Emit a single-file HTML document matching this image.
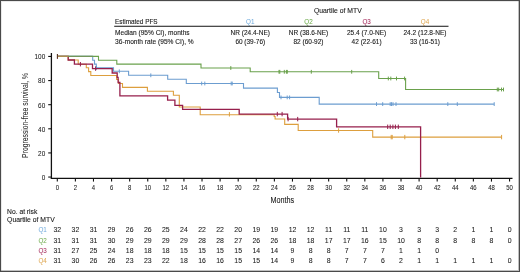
<!DOCTYPE html>
<html><head><meta charset="utf-8"><style>
html,body{margin:0;padding:0;background:#fff;}
body{width:520px;height:272px;overflow:hidden;position:relative;}
.frame{position:absolute;left:0;top:0;width:518px;height:270px;border:1px solid #4a4a4a;box-shadow:inset -1px -1px 0 rgba(74,74,74,0.35), inset 1px 1px 0 rgba(74,74,74,0.12);}
svg{position:absolute;left:0;top:0;will-change:transform;}
svg{font-family:"Liberation Sans",sans-serif;}
</style></head><body>
<svg width="520" height="272" viewBox="0 0 520 272">
<text x="337.8" y="12.6" font-size="6.6" fill="#1a1a1a" stroke="#1a1a1a" stroke-width="0.1" text-anchor="middle" textLength="47.8" lengthAdjust="spacingAndGlyphs">Quartile of MTV</text>
<text x="115.0" y="23.5" font-size="6.3" fill="#1a1a1a" stroke="#1a1a1a" stroke-width="0.1" textLength="42.6" lengthAdjust="spacingAndGlyphs">Estimated PFS</text>
<text x="250.3" y="23.5" font-size="7.0" fill="#74acdc" stroke="#74acdc" stroke-width="0.05" text-anchor="middle" textLength="8.4" lengthAdjust="spacingAndGlyphs">Q1</text>
<text x="308.5" y="23.5" font-size="7.0" fill="#6fab4e" stroke="#6fab4e" stroke-width="0.05" text-anchor="middle" textLength="8.4" lengthAdjust="spacingAndGlyphs">Q2</text>
<text x="366.6" y="23.5" font-size="7.0" fill="#a52a5a" stroke="#a52a5a" stroke-width="0.05" text-anchor="middle" textLength="8.4" lengthAdjust="spacingAndGlyphs">Q3</text>
<text x="425.0" y="23.5" font-size="7.0" fill="#dea855" stroke="#dea855" stroke-width="0.05" text-anchor="middle" textLength="8.4" lengthAdjust="spacingAndGlyphs">Q4</text>
<rect x="114.2" y="25.75" width="334.3" height="1.05" fill="#1e1e1e"/>
<text x="115.1" y="34.7" font-size="6.3" fill="#1a1a1a" stroke="#1a1a1a" stroke-width="0.1" textLength="74.5" lengthAdjust="spacingAndGlyphs">Median (95% CI), months</text>
<text x="115.1" y="43.6" font-size="6.3" fill="#1a1a1a" stroke="#1a1a1a" stroke-width="0.1" textLength="78.6" lengthAdjust="spacingAndGlyphs">36-month rate (95% CI), %</text>
<text x="250.3" y="34.7" font-size="6.3" fill="#1a1a1a" stroke="#1a1a1a" stroke-width="0.1" text-anchor="middle" textLength="39.4" lengthAdjust="spacingAndGlyphs">NR (24.4-NE)</text>
<text x="250.3" y="43.6" font-size="6.3" fill="#1a1a1a" stroke="#1a1a1a" stroke-width="0.1" text-anchor="middle" textLength="29.8" lengthAdjust="spacingAndGlyphs">60 (39-76)</text>
<text x="308.5" y="34.7" font-size="6.3" fill="#1a1a1a" stroke="#1a1a1a" stroke-width="0.1" text-anchor="middle" textLength="39.4" lengthAdjust="spacingAndGlyphs">NR (38.6-NE)</text>
<text x="308.5" y="43.6" font-size="6.3" fill="#1a1a1a" stroke="#1a1a1a" stroke-width="0.1" text-anchor="middle" textLength="30.0" lengthAdjust="spacingAndGlyphs">82 (60-92)</text>
<text x="366.6" y="34.7" font-size="6.3" fill="#1a1a1a" stroke="#1a1a1a" stroke-width="0.1" text-anchor="middle" textLength="39.3" lengthAdjust="spacingAndGlyphs">25.4 (7.0-NE)</text>
<text x="366.6" y="43.6" font-size="6.3" fill="#1a1a1a" stroke="#1a1a1a" stroke-width="0.1" text-anchor="middle" textLength="30.0" lengthAdjust="spacingAndGlyphs">42 (22-61)</text>
<text x="425.0" y="34.7" font-size="6.3" fill="#1a1a1a" stroke="#1a1a1a" stroke-width="0.1" text-anchor="middle" textLength="43.1" lengthAdjust="spacingAndGlyphs">24.2 (12.8-NE)</text>
<text x="425.0" y="43.6" font-size="6.3" fill="#1a1a1a" stroke="#1a1a1a" stroke-width="0.1" text-anchor="middle" textLength="30.0" lengthAdjust="spacingAndGlyphs">33 (16-51)</text>
<line x1="51.4" y1="53" x2="51.4" y2="178.8" stroke="#111" stroke-width="1.3"/>
<line x1="50.8" y1="178.45" x2="512.5" y2="178.45" stroke="#111" stroke-width="1.2"/>
<line x1="48.2" y1="177.05" x2="51.4" y2="177.05" stroke="#111" stroke-width="1.1"/>
<text x="45.2" y="179.9" font-size="8.1" fill="#1a1a1a" stroke="#1a1a1a" stroke-width="0.07" text-anchor="end" textLength="3.55" lengthAdjust="spacingAndGlyphs">0</text>
<line x1="48.2" y1="152.93" x2="51.4" y2="152.93" stroke="#111" stroke-width="1.1"/>
<text x="45.2" y="155.78" font-size="8.1" fill="#1a1a1a" stroke="#1a1a1a" stroke-width="0.07" text-anchor="end" textLength="7.1" lengthAdjust="spacingAndGlyphs">20</text>
<line x1="48.2" y1="128.81" x2="51.4" y2="128.81" stroke="#111" stroke-width="1.1"/>
<text x="45.2" y="131.66" font-size="8.1" fill="#1a1a1a" stroke="#1a1a1a" stroke-width="0.07" text-anchor="end" textLength="7.1" lengthAdjust="spacingAndGlyphs">40</text>
<line x1="48.2" y1="104.69" x2="51.4" y2="104.69" stroke="#111" stroke-width="1.1"/>
<text x="45.2" y="107.54" font-size="8.1" fill="#1a1a1a" stroke="#1a1a1a" stroke-width="0.07" text-anchor="end" textLength="7.1" lengthAdjust="spacingAndGlyphs">60</text>
<line x1="48.2" y1="80.57" x2="51.4" y2="80.57" stroke="#111" stroke-width="1.1"/>
<text x="45.2" y="83.42000000000002" font-size="8.1" fill="#1a1a1a" stroke="#1a1a1a" stroke-width="0.07" text-anchor="end" textLength="7.1" lengthAdjust="spacingAndGlyphs">80</text>
<line x1="48.2" y1="56.45" x2="51.4" y2="56.45" stroke="#111" stroke-width="1.1"/>
<text x="45.2" y="59.30000000000002" font-size="8.1" fill="#1a1a1a" stroke="#1a1a1a" stroke-width="0.07" text-anchor="end" textLength="10.649999999999999" lengthAdjust="spacingAndGlyphs">100</text>
<line x1="57.30" y1="178.2" x2="57.30" y2="181.6" stroke="#111" stroke-width="1.1"/>
<text x="57.30" y="190.4" font-size="7.6" fill="#1a1a1a" stroke="#1a1a1a" stroke-width="0.07" text-anchor="middle" textLength="3.3" lengthAdjust="spacingAndGlyphs">0</text>
<line x1="75.39" y1="178.2" x2="75.39" y2="181.6" stroke="#111" stroke-width="1.1"/>
<text x="75.39" y="190.4" font-size="7.6" fill="#1a1a1a" stroke="#1a1a1a" stroke-width="0.07" text-anchor="middle" textLength="3.3" lengthAdjust="spacingAndGlyphs">2</text>
<line x1="93.48" y1="178.2" x2="93.48" y2="181.6" stroke="#111" stroke-width="1.1"/>
<text x="93.48" y="190.4" font-size="7.6" fill="#1a1a1a" stroke="#1a1a1a" stroke-width="0.07" text-anchor="middle" textLength="3.3" lengthAdjust="spacingAndGlyphs">4</text>
<line x1="111.57" y1="178.2" x2="111.57" y2="181.6" stroke="#111" stroke-width="1.1"/>
<text x="111.57" y="190.4" font-size="7.6" fill="#1a1a1a" stroke="#1a1a1a" stroke-width="0.07" text-anchor="middle" textLength="3.3" lengthAdjust="spacingAndGlyphs">6</text>
<line x1="129.66" y1="178.2" x2="129.66" y2="181.6" stroke="#111" stroke-width="1.1"/>
<text x="129.66" y="190.4" font-size="7.6" fill="#1a1a1a" stroke="#1a1a1a" stroke-width="0.07" text-anchor="middle" textLength="3.3" lengthAdjust="spacingAndGlyphs">8</text>
<line x1="147.75" y1="178.2" x2="147.75" y2="181.6" stroke="#111" stroke-width="1.1"/>
<text x="147.75" y="190.4" font-size="7.6" fill="#1a1a1a" stroke="#1a1a1a" stroke-width="0.07" text-anchor="middle" textLength="6.6" lengthAdjust="spacingAndGlyphs">10</text>
<line x1="165.84" y1="178.2" x2="165.84" y2="181.6" stroke="#111" stroke-width="1.1"/>
<text x="165.84" y="190.4" font-size="7.6" fill="#1a1a1a" stroke="#1a1a1a" stroke-width="0.07" text-anchor="middle" textLength="6.6" lengthAdjust="spacingAndGlyphs">12</text>
<line x1="183.93" y1="178.2" x2="183.93" y2="181.6" stroke="#111" stroke-width="1.1"/>
<text x="183.93" y="190.4" font-size="7.6" fill="#1a1a1a" stroke="#1a1a1a" stroke-width="0.07" text-anchor="middle" textLength="6.6" lengthAdjust="spacingAndGlyphs">14</text>
<line x1="202.02" y1="178.2" x2="202.02" y2="181.6" stroke="#111" stroke-width="1.1"/>
<text x="202.02" y="190.4" font-size="7.6" fill="#1a1a1a" stroke="#1a1a1a" stroke-width="0.07" text-anchor="middle" textLength="6.6" lengthAdjust="spacingAndGlyphs">16</text>
<line x1="220.11" y1="178.2" x2="220.11" y2="181.6" stroke="#111" stroke-width="1.1"/>
<text x="220.11" y="190.4" font-size="7.6" fill="#1a1a1a" stroke="#1a1a1a" stroke-width="0.07" text-anchor="middle" textLength="6.6" lengthAdjust="spacingAndGlyphs">18</text>
<line x1="238.20" y1="178.2" x2="238.20" y2="181.6" stroke="#111" stroke-width="1.1"/>
<text x="238.20" y="190.4" font-size="7.6" fill="#1a1a1a" stroke="#1a1a1a" stroke-width="0.07" text-anchor="middle" textLength="6.6" lengthAdjust="spacingAndGlyphs">20</text>
<line x1="256.29" y1="178.2" x2="256.29" y2="181.6" stroke="#111" stroke-width="1.1"/>
<text x="256.29" y="190.4" font-size="7.6" fill="#1a1a1a" stroke="#1a1a1a" stroke-width="0.07" text-anchor="middle" textLength="6.6" lengthAdjust="spacingAndGlyphs">22</text>
<line x1="274.38" y1="178.2" x2="274.38" y2="181.6" stroke="#111" stroke-width="1.1"/>
<text x="274.38" y="190.4" font-size="7.6" fill="#1a1a1a" stroke="#1a1a1a" stroke-width="0.07" text-anchor="middle" textLength="6.6" lengthAdjust="spacingAndGlyphs">24</text>
<line x1="292.47" y1="178.2" x2="292.47" y2="181.6" stroke="#111" stroke-width="1.1"/>
<text x="292.47" y="190.4" font-size="7.6" fill="#1a1a1a" stroke="#1a1a1a" stroke-width="0.07" text-anchor="middle" textLength="6.6" lengthAdjust="spacingAndGlyphs">26</text>
<line x1="310.56" y1="178.2" x2="310.56" y2="181.6" stroke="#111" stroke-width="1.1"/>
<text x="310.56" y="190.4" font-size="7.6" fill="#1a1a1a" stroke="#1a1a1a" stroke-width="0.07" text-anchor="middle" textLength="6.6" lengthAdjust="spacingAndGlyphs">28</text>
<line x1="328.65" y1="178.2" x2="328.65" y2="181.6" stroke="#111" stroke-width="1.1"/>
<text x="328.65" y="190.4" font-size="7.6" fill="#1a1a1a" stroke="#1a1a1a" stroke-width="0.07" text-anchor="middle" textLength="6.6" lengthAdjust="spacingAndGlyphs">30</text>
<line x1="346.74" y1="178.2" x2="346.74" y2="181.6" stroke="#111" stroke-width="1.1"/>
<text x="346.74" y="190.4" font-size="7.6" fill="#1a1a1a" stroke="#1a1a1a" stroke-width="0.07" text-anchor="middle" textLength="6.6" lengthAdjust="spacingAndGlyphs">32</text>
<line x1="364.83" y1="178.2" x2="364.83" y2="181.6" stroke="#111" stroke-width="1.1"/>
<text x="364.83" y="190.4" font-size="7.6" fill="#1a1a1a" stroke="#1a1a1a" stroke-width="0.07" text-anchor="middle" textLength="6.6" lengthAdjust="spacingAndGlyphs">34</text>
<line x1="382.92" y1="178.2" x2="382.92" y2="181.6" stroke="#111" stroke-width="1.1"/>
<text x="382.92" y="190.4" font-size="7.6" fill="#1a1a1a" stroke="#1a1a1a" stroke-width="0.07" text-anchor="middle" textLength="6.6" lengthAdjust="spacingAndGlyphs">36</text>
<line x1="401.01" y1="178.2" x2="401.01" y2="181.6" stroke="#111" stroke-width="1.1"/>
<text x="401.01" y="190.4" font-size="7.6" fill="#1a1a1a" stroke="#1a1a1a" stroke-width="0.07" text-anchor="middle" textLength="6.6" lengthAdjust="spacingAndGlyphs">38</text>
<line x1="419.10" y1="178.2" x2="419.10" y2="181.6" stroke="#111" stroke-width="1.1"/>
<text x="419.10" y="190.4" font-size="7.6" fill="#1a1a1a" stroke="#1a1a1a" stroke-width="0.07" text-anchor="middle" textLength="6.6" lengthAdjust="spacingAndGlyphs">40</text>
<line x1="437.19" y1="178.2" x2="437.19" y2="181.6" stroke="#111" stroke-width="1.1"/>
<text x="437.19" y="190.4" font-size="7.6" fill="#1a1a1a" stroke="#1a1a1a" stroke-width="0.07" text-anchor="middle" textLength="6.6" lengthAdjust="spacingAndGlyphs">42</text>
<line x1="455.28" y1="178.2" x2="455.28" y2="181.6" stroke="#111" stroke-width="1.1"/>
<text x="455.28" y="190.4" font-size="7.6" fill="#1a1a1a" stroke="#1a1a1a" stroke-width="0.07" text-anchor="middle" textLength="6.6" lengthAdjust="spacingAndGlyphs">44</text>
<line x1="473.37" y1="178.2" x2="473.37" y2="181.6" stroke="#111" stroke-width="1.1"/>
<text x="473.37" y="190.4" font-size="7.6" fill="#1a1a1a" stroke="#1a1a1a" stroke-width="0.07" text-anchor="middle" textLength="6.6" lengthAdjust="spacingAndGlyphs">46</text>
<line x1="491.46" y1="178.2" x2="491.46" y2="181.6" stroke="#111" stroke-width="1.1"/>
<text x="491.46" y="190.4" font-size="7.6" fill="#1a1a1a" stroke="#1a1a1a" stroke-width="0.07" text-anchor="middle" textLength="6.6" lengthAdjust="spacingAndGlyphs">48</text>
<line x1="509.55" y1="178.2" x2="509.55" y2="181.6" stroke="#111" stroke-width="1.1"/>
<text x="509.55" y="190.4" font-size="7.6" fill="#1a1a1a" stroke="#1a1a1a" stroke-width="0.07" text-anchor="middle" textLength="6.6" lengthAdjust="spacingAndGlyphs">50</text>
<text x="282.3" y="202.8" font-size="9.4" fill="#1a1a1a" stroke="#1a1a1a" stroke-width="0.1" text-anchor="middle" textLength="23.7" lengthAdjust="spacingAndGlyphs">Months</text>
<text transform="translate(27.9,115.4) rotate(-90)" x="0" y="0" font-size="8.3" stroke="#2a2a2a" stroke-width="0.05" fill="#2a2a2a" text-anchor="middle" textLength="85" lengthAdjust="spacingAndGlyphs">Progression-free survival, %</text>
<path d="M57.3,56.4 H92.7 V60.3 H94.5 V64.1 H96.3 V67.9 H113.5 V71.3 H128.6 V75.3 H167.7 V79.3 H186.3 V83.5 H243.5 V88.1 H277.4 V92.5 H279.5 V97.4 H319.2 V104.1 H494.2" fill="none" stroke="#6c9dd0" stroke-width="1.1" stroke-linejoin="miter"/>
<line x1="96.5" y1="66.00" x2="96.5" y2="69.80" stroke="#6c9dd0" stroke-width="1.0"/>
<line x1="119.3" y1="69.40" x2="119.3" y2="73.20" stroke="#6c9dd0" stroke-width="1.0"/>
<line x1="150.8" y1="73.40" x2="150.8" y2="77.20" stroke="#6c9dd0" stroke-width="1.0"/>
<line x1="201.7" y1="81.60" x2="201.7" y2="85.40" stroke="#6c9dd0" stroke-width="1.0"/>
<line x1="204.8" y1="81.60" x2="204.8" y2="85.40" stroke="#6c9dd0" stroke-width="1.0"/>
<line x1="231.2" y1="81.60" x2="231.2" y2="85.40" stroke="#6c9dd0" stroke-width="1.0"/>
<line x1="232.2" y1="81.60" x2="232.2" y2="85.40" stroke="#6c9dd0" stroke-width="1.0"/>
<line x1="281" y1="95.50" x2="281" y2="99.30" stroke="#6c9dd0" stroke-width="1.0"/>
<line x1="287.2" y1="95.50" x2="287.2" y2="99.30" stroke="#6c9dd0" stroke-width="1.0"/>
<line x1="289.6" y1="95.50" x2="289.6" y2="99.30" stroke="#6c9dd0" stroke-width="1.0"/>
<line x1="376.5" y1="102.20" x2="376.5" y2="106.00" stroke="#6c9dd0" stroke-width="1.0"/>
<line x1="382.7" y1="102.20" x2="382.7" y2="106.00" stroke="#6c9dd0" stroke-width="1.0"/>
<line x1="390.2" y1="102.20" x2="390.2" y2="106.00" stroke="#6c9dd0" stroke-width="1.0"/>
<line x1="391.5" y1="102.20" x2="391.5" y2="106.00" stroke="#6c9dd0" stroke-width="1.0"/>
<line x1="393" y1="102.20" x2="393" y2="106.00" stroke="#6c9dd0" stroke-width="1.0"/>
<line x1="396" y1="102.20" x2="396" y2="106.00" stroke="#6c9dd0" stroke-width="1.0"/>
<line x1="447.8" y1="102.20" x2="447.8" y2="106.00" stroke="#6c9dd0" stroke-width="1.0"/>
<line x1="457.3" y1="102.20" x2="457.3" y2="106.00" stroke="#6c9dd0" stroke-width="1.0"/>
<line x1="494.2" y1="102.20" x2="494.2" y2="106.00" stroke="#6c9dd0" stroke-width="1.0"/>
<path d="M57.3,56.4 H68.2 V60.0 H78.2 V64.2 H86.3 V67.8 H88.6 V71.6 H90.8 V75.5 H116.6 V79.5 H118.5 V83.5 H122.5 V87.4 H147.4 V91.3 H173.4 V95.2 H179.3 V107 H200.2 V114.7 H274.2 V116.5 H275.1 V119 H284.7 V124.4 H298.2 V130.5 H372.7 V137.1 H501.6" fill="none" stroke="#dd9f3e" stroke-width="1.1" stroke-linejoin="miter"/>
<line x1="229.4" y1="112.10" x2="229.4" y2="116.50" stroke="#dd9f3e" stroke-width="1.0"/>
<line x1="338.6" y1="128.30" x2="338.6" y2="132.70" stroke="#dd9f3e" stroke-width="1.0"/>
<line x1="391.2" y1="134.90" x2="391.2" y2="139.30" stroke="#dd9f3e" stroke-width="1.0"/>
<line x1="392.2" y1="134.90" x2="392.2" y2="139.30" stroke="#dd9f3e" stroke-width="1.0"/>
<line x1="404.8" y1="134.90" x2="404.8" y2="139.30" stroke="#dd9f3e" stroke-width="1.0"/>
<line x1="501.6" y1="134.90" x2="501.6" y2="139.30" stroke="#dd9f3e" stroke-width="1.0"/>
<path d="M57.3,56.4 H68.2 V60.0 H74.4 V64.2 H92.5 V68.6 H112.2 V73 H117.2 V77.3 H118.1 V82.5 H119.9 V95.9 H167.6 V100.2 H174.9 V105.3 H182.6 V109.3 H239.2 V114.1 H287.6 V119.1 H336.6 V126.8 H420.6 V177.6" fill="none" stroke="#961f4c" stroke-width="1.3" stroke-linejoin="miter"/>
<line x1="57.5" y1="54.20" x2="57.5" y2="58.60" stroke="#961f4c" stroke-width="1.0"/>
<line x1="80.4" y1="62.00" x2="80.4" y2="66.40" stroke="#961f4c" stroke-width="1.0"/>
<line x1="95.6" y1="66.40" x2="95.6" y2="70.80" stroke="#961f4c" stroke-width="1.0"/>
<line x1="277.3" y1="111.90" x2="277.3" y2="116.30" stroke="#961f4c" stroke-width="1.0"/>
<line x1="282.1" y1="111.90" x2="282.1" y2="116.30" stroke="#961f4c" stroke-width="1.0"/>
<line x1="288.1" y1="116.90" x2="288.1" y2="121.30" stroke="#961f4c" stroke-width="1.0"/>
<line x1="297.7" y1="116.90" x2="297.7" y2="121.30" stroke="#961f4c" stroke-width="1.0"/>
<line x1="387.7" y1="124.60" x2="387.7" y2="129.00" stroke="#961f4c" stroke-width="1.0"/>
<line x1="390.2" y1="124.60" x2="390.2" y2="129.00" stroke="#961f4c" stroke-width="1.0"/>
<line x1="392.9" y1="124.60" x2="392.9" y2="129.00" stroke="#961f4c" stroke-width="1.0"/>
<line x1="395.4" y1="124.60" x2="395.4" y2="129.00" stroke="#961f4c" stroke-width="1.0"/>
<line x1="398.3" y1="124.60" x2="398.3" y2="129.00" stroke="#961f4c" stroke-width="1.0"/>
<path d="M57.3,56.4 H98.5 V60.2 H116.8 V64.1 H201 V68.0 H250.2 V71.8 H378.7 V78.5 H405.6 V89.5 H503.5" fill="none" stroke="#6aa14c" stroke-width="1.1" stroke-linejoin="miter"/>
<line x1="230.8" y1="66.10" x2="230.8" y2="69.90" stroke="#6aa14c" stroke-width="1.0"/>
<line x1="279.0" y1="69.90" x2="279.0" y2="73.70" stroke="#6aa14c" stroke-width="1.0"/>
<line x1="279.8" y1="69.90" x2="279.8" y2="73.70" stroke="#6aa14c" stroke-width="1.0"/>
<line x1="284.3" y1="69.90" x2="284.3" y2="73.70" stroke="#6aa14c" stroke-width="1.0"/>
<line x1="286.4" y1="69.90" x2="286.4" y2="73.70" stroke="#6aa14c" stroke-width="1.0"/>
<line x1="287.3" y1="69.90" x2="287.3" y2="73.70" stroke="#6aa14c" stroke-width="1.0"/>
<line x1="311.3" y1="69.90" x2="311.3" y2="73.70" stroke="#6aa14c" stroke-width="1.0"/>
<line x1="351.7" y1="69.90" x2="351.7" y2="73.70" stroke="#6aa14c" stroke-width="1.0"/>
<line x1="388.3" y1="76.60" x2="388.3" y2="80.40" stroke="#6aa14c" stroke-width="1.0"/>
<line x1="390.8" y1="76.60" x2="390.8" y2="80.40" stroke="#6aa14c" stroke-width="1.0"/>
<line x1="396.5" y1="76.60" x2="396.5" y2="80.40" stroke="#6aa14c" stroke-width="1.0"/>
<line x1="404.6" y1="76.60" x2="404.6" y2="80.40" stroke="#6aa14c" stroke-width="1.0"/>
<line x1="497.3" y1="87.60" x2="497.3" y2="91.40" stroke="#6aa14c" stroke-width="1.0"/>
<line x1="498.7" y1="87.60" x2="498.7" y2="91.40" stroke="#6aa14c" stroke-width="1.0"/>
<line x1="501.5" y1="87.60" x2="501.5" y2="91.40" stroke="#6aa14c" stroke-width="1.0"/>
<line x1="503.5" y1="87.60" x2="503.5" y2="91.40" stroke="#6aa14c" stroke-width="1.0"/>
<line x1="57.3" y1="56.4" x2="68.2" y2="56.4" stroke="#b08d50" stroke-width="1.1"/>
<line x1="68.2" y1="56.4" x2="92.7" y2="56.4" stroke="#74955a" stroke-width="1.1"/>
<line x1="57.4" y1="54.0" x2="57.4" y2="58.8" stroke="#5a3a2a" stroke-width="1.1"/>
<text x="7.1" y="214.0" font-size="6.3" fill="#1a1a1a" stroke="#1a1a1a" stroke-width="0.1" textLength="30.2" lengthAdjust="spacingAndGlyphs">No. at risk</text>
<text x="7.1" y="221.7" font-size="6.3" fill="#1a1a1a" stroke="#1a1a1a" stroke-width="0.1" textLength="47.6" lengthAdjust="spacingAndGlyphs">Quartile of MTV</text>
<text x="46.8" y="232.4" font-size="6.9" fill="#74acdc" stroke="#74acdc" stroke-width="0.03" text-anchor="end" textLength="8.4" lengthAdjust="spacingAndGlyphs">Q1</text>
<text x="57.30" y="232.4" font-size="6.9" fill="#1a1a1a" stroke="#1a1a1a" stroke-width="0.06" text-anchor="middle">32</text>
<text x="75.39" y="232.4" font-size="6.9" fill="#1a1a1a" stroke="#1a1a1a" stroke-width="0.06" text-anchor="middle">32</text>
<text x="93.48" y="232.4" font-size="6.9" fill="#1a1a1a" stroke="#1a1a1a" stroke-width="0.06" text-anchor="middle">31</text>
<text x="111.57" y="232.4" font-size="6.9" fill="#1a1a1a" stroke="#1a1a1a" stroke-width="0.06" text-anchor="middle">29</text>
<text x="129.66" y="232.4" font-size="6.9" fill="#1a1a1a" stroke="#1a1a1a" stroke-width="0.06" text-anchor="middle">26</text>
<text x="147.75" y="232.4" font-size="6.9" fill="#1a1a1a" stroke="#1a1a1a" stroke-width="0.06" text-anchor="middle">26</text>
<text x="165.84" y="232.4" font-size="6.9" fill="#1a1a1a" stroke="#1a1a1a" stroke-width="0.06" text-anchor="middle">25</text>
<text x="183.93" y="232.4" font-size="6.9" fill="#1a1a1a" stroke="#1a1a1a" stroke-width="0.06" text-anchor="middle">24</text>
<text x="202.02" y="232.4" font-size="6.9" fill="#1a1a1a" stroke="#1a1a1a" stroke-width="0.06" text-anchor="middle">22</text>
<text x="220.11" y="232.4" font-size="6.9" fill="#1a1a1a" stroke="#1a1a1a" stroke-width="0.06" text-anchor="middle">22</text>
<text x="238.20" y="232.4" font-size="6.9" fill="#1a1a1a" stroke="#1a1a1a" stroke-width="0.06" text-anchor="middle">20</text>
<text x="256.29" y="232.4" font-size="6.9" fill="#1a1a1a" stroke="#1a1a1a" stroke-width="0.06" text-anchor="middle">19</text>
<text x="274.38" y="232.4" font-size="6.9" fill="#1a1a1a" stroke="#1a1a1a" stroke-width="0.06" text-anchor="middle">19</text>
<text x="292.47" y="232.4" font-size="6.9" fill="#1a1a1a" stroke="#1a1a1a" stroke-width="0.06" text-anchor="middle">12</text>
<text x="310.56" y="232.4" font-size="6.9" fill="#1a1a1a" stroke="#1a1a1a" stroke-width="0.06" text-anchor="middle">12</text>
<text x="328.65" y="232.4" font-size="6.9" fill="#1a1a1a" stroke="#1a1a1a" stroke-width="0.06" text-anchor="middle">11</text>
<text x="346.74" y="232.4" font-size="6.9" fill="#1a1a1a" stroke="#1a1a1a" stroke-width="0.06" text-anchor="middle">11</text>
<text x="364.83" y="232.4" font-size="6.9" fill="#1a1a1a" stroke="#1a1a1a" stroke-width="0.06" text-anchor="middle">11</text>
<text x="382.92" y="232.4" font-size="6.9" fill="#1a1a1a" stroke="#1a1a1a" stroke-width="0.06" text-anchor="middle">10</text>
<text x="401.01" y="232.4" font-size="6.9" fill="#1a1a1a" stroke="#1a1a1a" stroke-width="0.06" text-anchor="middle">3</text>
<text x="419.10" y="232.4" font-size="6.9" fill="#1a1a1a" stroke="#1a1a1a" stroke-width="0.06" text-anchor="middle">3</text>
<text x="437.19" y="232.4" font-size="6.9" fill="#1a1a1a" stroke="#1a1a1a" stroke-width="0.06" text-anchor="middle">3</text>
<text x="455.28" y="232.4" font-size="6.9" fill="#1a1a1a" stroke="#1a1a1a" stroke-width="0.06" text-anchor="middle">2</text>
<text x="473.37" y="232.4" font-size="6.9" fill="#1a1a1a" stroke="#1a1a1a" stroke-width="0.06" text-anchor="middle">1</text>
<text x="491.46" y="232.4" font-size="6.9" fill="#1a1a1a" stroke="#1a1a1a" stroke-width="0.06" text-anchor="middle">1</text>
<text x="509.55" y="232.4" font-size="6.9" fill="#1a1a1a" stroke="#1a1a1a" stroke-width="0.06" text-anchor="middle">0</text>
<text x="46.8" y="242.6" font-size="6.9" fill="#6fab4e" stroke="#6fab4e" stroke-width="0.03" text-anchor="end" textLength="8.4" lengthAdjust="spacingAndGlyphs">Q2</text>
<text x="57.30" y="242.6" font-size="6.9" fill="#1a1a1a" stroke="#1a1a1a" stroke-width="0.06" text-anchor="middle">31</text>
<text x="75.39" y="242.6" font-size="6.9" fill="#1a1a1a" stroke="#1a1a1a" stroke-width="0.06" text-anchor="middle">31</text>
<text x="93.48" y="242.6" font-size="6.9" fill="#1a1a1a" stroke="#1a1a1a" stroke-width="0.06" text-anchor="middle">31</text>
<text x="111.57" y="242.6" font-size="6.9" fill="#1a1a1a" stroke="#1a1a1a" stroke-width="0.06" text-anchor="middle">30</text>
<text x="129.66" y="242.6" font-size="6.9" fill="#1a1a1a" stroke="#1a1a1a" stroke-width="0.06" text-anchor="middle">29</text>
<text x="147.75" y="242.6" font-size="6.9" fill="#1a1a1a" stroke="#1a1a1a" stroke-width="0.06" text-anchor="middle">29</text>
<text x="165.84" y="242.6" font-size="6.9" fill="#1a1a1a" stroke="#1a1a1a" stroke-width="0.06" text-anchor="middle">29</text>
<text x="183.93" y="242.6" font-size="6.9" fill="#1a1a1a" stroke="#1a1a1a" stroke-width="0.06" text-anchor="middle">29</text>
<text x="202.02" y="242.6" font-size="6.9" fill="#1a1a1a" stroke="#1a1a1a" stroke-width="0.06" text-anchor="middle">28</text>
<text x="220.11" y="242.6" font-size="6.9" fill="#1a1a1a" stroke="#1a1a1a" stroke-width="0.06" text-anchor="middle">28</text>
<text x="238.20" y="242.6" font-size="6.9" fill="#1a1a1a" stroke="#1a1a1a" stroke-width="0.06" text-anchor="middle">27</text>
<text x="256.29" y="242.6" font-size="6.9" fill="#1a1a1a" stroke="#1a1a1a" stroke-width="0.06" text-anchor="middle">26</text>
<text x="274.38" y="242.6" font-size="6.9" fill="#1a1a1a" stroke="#1a1a1a" stroke-width="0.06" text-anchor="middle">26</text>
<text x="292.47" y="242.6" font-size="6.9" fill="#1a1a1a" stroke="#1a1a1a" stroke-width="0.06" text-anchor="middle">18</text>
<text x="310.56" y="242.6" font-size="6.9" fill="#1a1a1a" stroke="#1a1a1a" stroke-width="0.06" text-anchor="middle">18</text>
<text x="328.65" y="242.6" font-size="6.9" fill="#1a1a1a" stroke="#1a1a1a" stroke-width="0.06" text-anchor="middle">17</text>
<text x="346.74" y="242.6" font-size="6.9" fill="#1a1a1a" stroke="#1a1a1a" stroke-width="0.06" text-anchor="middle">17</text>
<text x="364.83" y="242.6" font-size="6.9" fill="#1a1a1a" stroke="#1a1a1a" stroke-width="0.06" text-anchor="middle">16</text>
<text x="382.92" y="242.6" font-size="6.9" fill="#1a1a1a" stroke="#1a1a1a" stroke-width="0.06" text-anchor="middle">15</text>
<text x="401.01" y="242.6" font-size="6.9" fill="#1a1a1a" stroke="#1a1a1a" stroke-width="0.06" text-anchor="middle">10</text>
<text x="419.10" y="242.6" font-size="6.9" fill="#1a1a1a" stroke="#1a1a1a" stroke-width="0.06" text-anchor="middle">8</text>
<text x="437.19" y="242.6" font-size="6.9" fill="#1a1a1a" stroke="#1a1a1a" stroke-width="0.06" text-anchor="middle">8</text>
<text x="455.28" y="242.6" font-size="6.9" fill="#1a1a1a" stroke="#1a1a1a" stroke-width="0.06" text-anchor="middle">8</text>
<text x="473.37" y="242.6" font-size="6.9" fill="#1a1a1a" stroke="#1a1a1a" stroke-width="0.06" text-anchor="middle">8</text>
<text x="491.46" y="242.6" font-size="6.9" fill="#1a1a1a" stroke="#1a1a1a" stroke-width="0.06" text-anchor="middle">8</text>
<text x="509.55" y="242.6" font-size="6.9" fill="#1a1a1a" stroke="#1a1a1a" stroke-width="0.06" text-anchor="middle">0</text>
<text x="46.8" y="252.8" font-size="6.9" fill="#a52a5a" stroke="#a52a5a" stroke-width="0.03" text-anchor="end" textLength="8.4" lengthAdjust="spacingAndGlyphs">Q3</text>
<text x="57.30" y="252.8" font-size="6.9" fill="#1a1a1a" stroke="#1a1a1a" stroke-width="0.06" text-anchor="middle">31</text>
<text x="75.39" y="252.8" font-size="6.9" fill="#1a1a1a" stroke="#1a1a1a" stroke-width="0.06" text-anchor="middle">27</text>
<text x="93.48" y="252.8" font-size="6.9" fill="#1a1a1a" stroke="#1a1a1a" stroke-width="0.06" text-anchor="middle">25</text>
<text x="111.57" y="252.8" font-size="6.9" fill="#1a1a1a" stroke="#1a1a1a" stroke-width="0.06" text-anchor="middle">24</text>
<text x="129.66" y="252.8" font-size="6.9" fill="#1a1a1a" stroke="#1a1a1a" stroke-width="0.06" text-anchor="middle">18</text>
<text x="147.75" y="252.8" font-size="6.9" fill="#1a1a1a" stroke="#1a1a1a" stroke-width="0.06" text-anchor="middle">18</text>
<text x="165.84" y="252.8" font-size="6.9" fill="#1a1a1a" stroke="#1a1a1a" stroke-width="0.06" text-anchor="middle">18</text>
<text x="183.93" y="252.8" font-size="6.9" fill="#1a1a1a" stroke="#1a1a1a" stroke-width="0.06" text-anchor="middle">15</text>
<text x="202.02" y="252.8" font-size="6.9" fill="#1a1a1a" stroke="#1a1a1a" stroke-width="0.06" text-anchor="middle">15</text>
<text x="220.11" y="252.8" font-size="6.9" fill="#1a1a1a" stroke="#1a1a1a" stroke-width="0.06" text-anchor="middle">15</text>
<text x="238.20" y="252.8" font-size="6.9" fill="#1a1a1a" stroke="#1a1a1a" stroke-width="0.06" text-anchor="middle">15</text>
<text x="256.29" y="252.8" font-size="6.9" fill="#1a1a1a" stroke="#1a1a1a" stroke-width="0.06" text-anchor="middle">14</text>
<text x="274.38" y="252.8" font-size="6.9" fill="#1a1a1a" stroke="#1a1a1a" stroke-width="0.06" text-anchor="middle">14</text>
<text x="292.47" y="252.8" font-size="6.9" fill="#1a1a1a" stroke="#1a1a1a" stroke-width="0.06" text-anchor="middle">9</text>
<text x="310.56" y="252.8" font-size="6.9" fill="#1a1a1a" stroke="#1a1a1a" stroke-width="0.06" text-anchor="middle">8</text>
<text x="328.65" y="252.8" font-size="6.9" fill="#1a1a1a" stroke="#1a1a1a" stroke-width="0.06" text-anchor="middle">8</text>
<text x="346.74" y="252.8" font-size="6.9" fill="#1a1a1a" stroke="#1a1a1a" stroke-width="0.06" text-anchor="middle">7</text>
<text x="364.83" y="252.8" font-size="6.9" fill="#1a1a1a" stroke="#1a1a1a" stroke-width="0.06" text-anchor="middle">7</text>
<text x="382.92" y="252.8" font-size="6.9" fill="#1a1a1a" stroke="#1a1a1a" stroke-width="0.06" text-anchor="middle">7</text>
<text x="401.01" y="252.8" font-size="6.9" fill="#1a1a1a" stroke="#1a1a1a" stroke-width="0.06" text-anchor="middle">1</text>
<text x="419.10" y="252.8" font-size="6.9" fill="#1a1a1a" stroke="#1a1a1a" stroke-width="0.06" text-anchor="middle">1</text>
<text x="437.19" y="252.8" font-size="6.9" fill="#1a1a1a" stroke="#1a1a1a" stroke-width="0.06" text-anchor="middle">0</text>
<text x="46.8" y="263.0" font-size="6.9" fill="#dea855" stroke="#dea855" stroke-width="0.03" text-anchor="end" textLength="8.4" lengthAdjust="spacingAndGlyphs">Q4</text>
<text x="57.30" y="263.0" font-size="6.9" fill="#1a1a1a" stroke="#1a1a1a" stroke-width="0.06" text-anchor="middle">31</text>
<text x="75.39" y="263.0" font-size="6.9" fill="#1a1a1a" stroke="#1a1a1a" stroke-width="0.06" text-anchor="middle">30</text>
<text x="93.48" y="263.0" font-size="6.9" fill="#1a1a1a" stroke="#1a1a1a" stroke-width="0.06" text-anchor="middle">26</text>
<text x="111.57" y="263.0" font-size="6.9" fill="#1a1a1a" stroke="#1a1a1a" stroke-width="0.06" text-anchor="middle">26</text>
<text x="129.66" y="263.0" font-size="6.9" fill="#1a1a1a" stroke="#1a1a1a" stroke-width="0.06" text-anchor="middle">23</text>
<text x="147.75" y="263.0" font-size="6.9" fill="#1a1a1a" stroke="#1a1a1a" stroke-width="0.06" text-anchor="middle">23</text>
<text x="165.84" y="263.0" font-size="6.9" fill="#1a1a1a" stroke="#1a1a1a" stroke-width="0.06" text-anchor="middle">22</text>
<text x="183.93" y="263.0" font-size="6.9" fill="#1a1a1a" stroke="#1a1a1a" stroke-width="0.06" text-anchor="middle">18</text>
<text x="202.02" y="263.0" font-size="6.9" fill="#1a1a1a" stroke="#1a1a1a" stroke-width="0.06" text-anchor="middle">16</text>
<text x="220.11" y="263.0" font-size="6.9" fill="#1a1a1a" stroke="#1a1a1a" stroke-width="0.06" text-anchor="middle">16</text>
<text x="238.20" y="263.0" font-size="6.9" fill="#1a1a1a" stroke="#1a1a1a" stroke-width="0.06" text-anchor="middle">15</text>
<text x="256.29" y="263.0" font-size="6.9" fill="#1a1a1a" stroke="#1a1a1a" stroke-width="0.06" text-anchor="middle">15</text>
<text x="274.38" y="263.0" font-size="6.9" fill="#1a1a1a" stroke="#1a1a1a" stroke-width="0.06" text-anchor="middle">14</text>
<text x="292.47" y="263.0" font-size="6.9" fill="#1a1a1a" stroke="#1a1a1a" stroke-width="0.06" text-anchor="middle">9</text>
<text x="310.56" y="263.0" font-size="6.9" fill="#1a1a1a" stroke="#1a1a1a" stroke-width="0.06" text-anchor="middle">8</text>
<text x="328.65" y="263.0" font-size="6.9" fill="#1a1a1a" stroke="#1a1a1a" stroke-width="0.06" text-anchor="middle">8</text>
<text x="346.74" y="263.0" font-size="6.9" fill="#1a1a1a" stroke="#1a1a1a" stroke-width="0.06" text-anchor="middle">7</text>
<text x="364.83" y="263.0" font-size="6.9" fill="#1a1a1a" stroke="#1a1a1a" stroke-width="0.06" text-anchor="middle">7</text>
<text x="382.92" y="263.0" font-size="6.9" fill="#1a1a1a" stroke="#1a1a1a" stroke-width="0.06" text-anchor="middle">6</text>
<text x="401.01" y="263.0" font-size="6.9" fill="#1a1a1a" stroke="#1a1a1a" stroke-width="0.06" text-anchor="middle">2</text>
<text x="419.10" y="263.0" font-size="6.9" fill="#1a1a1a" stroke="#1a1a1a" stroke-width="0.06" text-anchor="middle">1</text>
<text x="437.19" y="263.0" font-size="6.9" fill="#1a1a1a" stroke="#1a1a1a" stroke-width="0.06" text-anchor="middle">1</text>
<text x="455.28" y="263.0" font-size="6.9" fill="#1a1a1a" stroke="#1a1a1a" stroke-width="0.06" text-anchor="middle">1</text>
<text x="473.37" y="263.0" font-size="6.9" fill="#1a1a1a" stroke="#1a1a1a" stroke-width="0.06" text-anchor="middle">1</text>
<text x="491.46" y="263.0" font-size="6.9" fill="#1a1a1a" stroke="#1a1a1a" stroke-width="0.06" text-anchor="middle">1</text>
<text x="509.55" y="263.0" font-size="6.9" fill="#1a1a1a" stroke="#1a1a1a" stroke-width="0.06" text-anchor="middle">0</text>
</svg>
<div class="frame"></div>
</body></html>
